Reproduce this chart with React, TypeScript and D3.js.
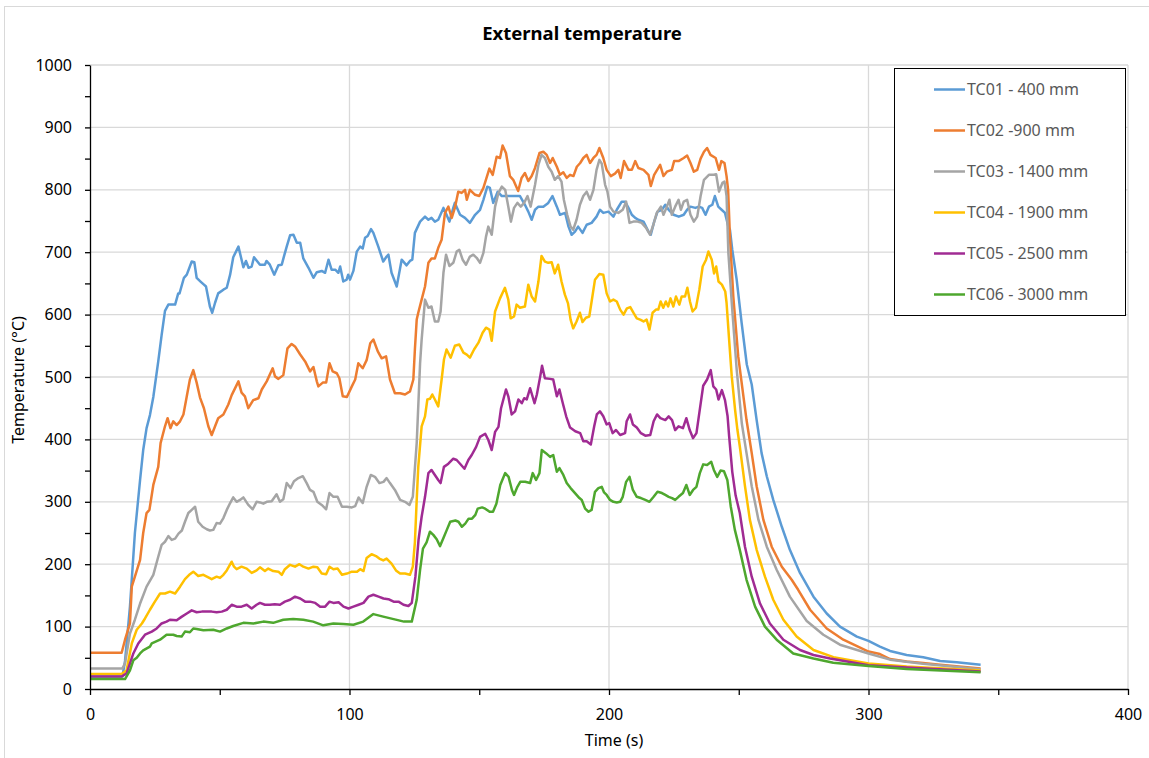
import React, { useRef, useEffect } from "react";
import { select, scaleLinear, line, axisBottom, axisLeft, range } from "d3";

// [time (s), temperature (°C)]
const tc01: [number, number][] = [
  [0, 20], [12.5, 20], [13.5, 45], [15.4, 132], [17.3, 250], [19.3, 335], [20.5, 383], [21.8, 418], [23.1, 439], [24.4, 468],
  [26.3, 525], [27.6, 567], [28.9, 606], [30.2, 616], [32.8, 616], [34, 634], [34.5, 634], [36.2, 659], [37.3, 664], [39.2, 685],
  [40.2, 684], [41.1, 659], [42.6, 653], [43.9, 648], [44.7, 645], [46.2, 613], [47.1, 603], [48.2, 619], [49.4, 634], [51.4, 640],
  [52.7, 643], [54, 664], [55.2, 692], [57.2, 709], [59.1, 676], [60.1, 686], [61.1, 675], [62.3, 677], [63.2, 692], [65.5, 680],
  [67.4, 680], [68, 686], [69.3, 680], [71, 664], [72.6, 679], [73.9, 680], [74.8, 694], [75.8, 709], [77.1, 727], [78.4, 728],
  [79.7, 715], [81, 715], [82.2, 690], [84.2, 675], [86.1, 659], [87.4, 668], [89.3, 670], [90.6, 667], [91.9, 688], [93.1, 672],
  [94.5, 672], [95.7, 667], [96.4, 677], [97.6, 653], [98.9, 656], [99.5, 664], [100.2, 656], [101.5, 670], [102.8, 701], [104.1, 709],
  [105.1, 706], [106, 723], [107, 726], [108.3, 737], [109.2, 731], [111.1, 709], [113, 685], [114.3, 693], [115, 696], [116.2, 667],
  [118.2, 645], [120.1, 688], [122, 679], [123.3, 686], [124.2, 688], [125.2, 731], [127.2, 749], [129.1, 757], [130.4, 752], [131.6, 755],
  [132.9, 749], [134.2, 752], [136.2, 771], [137.4, 760], [138.5, 749], [140, 771], [140.6, 779], [142.6, 760], [144.5, 755], [146.4, 747],
  [148.4, 760], [150.3, 768], [151.6, 784], [153.1, 805], [154.1, 803], [155.4, 779], [157.1, 797], [158.7, 790], [160.6, 790], [163.1, 790],
  [165.7, 790], [167.6, 776], [168.9, 765], [170.2, 752], [171.5, 768], [172.8, 773], [174.7, 773], [176.6, 779], [178.2, 790], [179.9, 773],
  [181.1, 760], [183.1, 763], [184.4, 741], [185.6, 728], [186.9, 733], [188.1, 741], [189.8, 731], [191.4, 744], [193.3, 747], [195.2, 757],
  [196.5, 768], [197.8, 763], [199.8, 765], [201.7, 757], [203, 768], [204.9, 781], [206.2, 781], [207.5, 771], [208.8, 760], [210.1, 755],
  [211.3, 752], [213.3, 749], [215.2, 733], [216.1, 728], [217.4, 749], [218.7, 765], [220.4, 768], [221.7, 776], [223, 768], [224.9, 760],
  [226.9, 757], [228.8, 760], [230.1, 768], [231.4, 773], [233.3, 771], [234.6, 773], [235.9, 771], [237.2, 760], [238.5, 773], [239.8, 776],
  [240.8, 790], [242.1, 773], [243.4, 768], [244.7, 763], [246, 741], [246.6, 736], [247.5, 704], [249.2, 656], [251.1, 587], [253.1, 520],
  [255, 488], [256.9, 431], [258.8, 378], [260.8, 341], [263.3, 303], [266.6, 260], [269.7, 223], [273.6, 186], [278.8, 148], [283.9, 121],
  [289, 100], [295.5, 84], [300, 77], [304.4, 68], [308.3, 61], [314.7, 54.5], [321.1, 50.8], [327.6, 45], [334, 42.7], [343.2, 39],
];

const tc02: [number, number][] = [
  [0, 58], [12.2, 58], [13.5, 79], [15.4, 105], [16.1, 164], [17.3, 180], [19.3, 207], [20.5, 250], [21.8, 282], [22.9, 287],
  [24.4, 327], [26.3, 356], [27.2, 394], [28.9, 421], [29.9, 434], [31, 418], [32.1, 429], [33.4, 423], [34.7, 429], [36, 440],
  [37.3, 469], [38.5, 496], [39.8, 511], [41.1, 491], [42.4, 467], [43.9, 450], [45.6, 421], [46.9, 407], [48.2, 421], [49.4, 434],
  [51.4, 440], [53.3, 456], [54.6, 471], [57.2, 493], [58.4, 475], [59.7, 469], [61, 450], [62.9, 463], [64.9, 466], [66.2, 480],
  [68.1, 493], [70.4, 514], [71.3, 501], [72.6, 497], [74.5, 503], [76.1, 546], [77.7, 553], [79, 549], [81, 536], [82.9, 525],
  [84.8, 509], [86.1, 516], [87.4, 493], [88, 485], [89.7, 491], [91, 491], [92.3, 522], [93.5, 509], [95.1, 506], [96.1, 498],
  [97.4, 469], [99, 468], [100.9, 485], [102.2, 496], [103.4, 522], [105.1, 514], [106.6, 527], [108, 554], [109.2, 560], [110.9, 541],
  [112.4, 530], [114.1, 533], [115.6, 496], [117.5, 474], [119.5, 474], [121.4, 472], [123.3, 477], [124.6, 496], [125.2, 544], [125.9, 592],
  [126.5, 603], [127.8, 624], [129.1, 645], [130.4, 683], [131.6, 690], [132.9, 690], [134.2, 707], [135.5, 720], [136.8, 763], [138.1, 773],
  [139.4, 755], [140.6, 771], [141.9, 797], [143.2, 795], [144.5, 800], [145.2, 784], [146.4, 800], [148.4, 792], [150, 790], [151.6, 803],
  [152.8, 819], [153.9, 834], [155.2, 824], [156.7, 853], [158, 851], [159, 871], [160.3, 859], [161.8, 822], [163.1, 816], [165, 798],
  [166.3, 819], [167.6, 827], [168.9, 814], [170.2, 822], [171.5, 835], [173.2, 859], [174.7, 861], [176, 856], [177.3, 843], [178.3, 851],
  [179.9, 837], [181.1, 824], [182.4, 828], [183.7, 819], [185, 824], [186.3, 822], [187.6, 837], [188.9, 843], [190.1, 851], [191.4, 856],
  [192.7, 843], [194, 851], [195.2, 856], [196.3, 867], [197.8, 851], [199.1, 832], [200.7, 822], [202.3, 826], [203.6, 832], [204.5, 819],
  [205.8, 846], [207.5, 832], [208.8, 832], [210.1, 846], [211.3, 835], [213.3, 832], [215.2, 824], [216.1, 806], [217.4, 824], [219.7, 840],
  [221, 822], [222.3, 829], [224.2, 832], [225.1, 846], [226.8, 846], [228.8, 851], [230.1, 855], [231.4, 843], [232.7, 829], [234, 832],
  [235.3, 850], [236.6, 861], [237.8, 867], [239.1, 856], [241.1, 851], [242.4, 832], [243.3, 846], [244.5, 843], [245.3, 822], [245.9, 800],
  [246.6, 725], [247.9, 629], [249.8, 533], [251.8, 469], [253, 431], [255, 378], [256.9, 325], [259.5, 271], [262.7, 228], [266.6, 196],
  [270.4, 175], [272.9, 159], [277.5, 127], [283.9, 97], [290.3, 79], [300, 60], [304.4, 56], [308.3, 48], [314.7, 44], [321, 41.5],
  [327.6, 39], [343.2, 33],
];

const tc03: [number, number][] = [
  [0, 33], [12.5, 33], [13.5, 41], [15.4, 89], [17.3, 111], [19.3, 137], [21.8, 164], [24.4, 183], [26.3, 212], [27.6, 231],
  [28.9, 236], [30.2, 245], [31.5, 239], [32.8, 241], [34.1, 249], [35.4, 254], [36.6, 268], [37.9, 282], [39.2, 287], [40.5, 292],
  [41.7, 268], [43.4, 260], [45, 256], [46.2, 254], [47.5, 255], [48.8, 266], [50.1, 265], [51.4, 274], [52.7, 287], [54, 298],
  [55.2, 307], [56.5, 300], [57.8, 303], [59.1, 307], [61, 295], [62.7, 288], [64.2, 300], [65.5, 299], [66.8, 297], [68.1, 300],
  [70, 301], [71.9, 312], [73.2, 300], [74.5, 304], [75.8, 330], [77.3, 322], [78.6, 333], [80.3, 338], [82, 341], [83.5, 330],
  [84.8, 319], [86.1, 316], [87.6, 300], [89.3, 295], [91, 288], [92.3, 314], [93.8, 308], [95.4, 308], [97.1, 292], [99, 292],
  [100.9, 291], [102.2, 293], [103.5, 307], [105.1, 298], [106.6, 324], [108.2, 343], [109.8, 340], [111.5, 330], [113.1, 332], [114.3, 338],
  [115.6, 330], [117.5, 319], [119.5, 303], [121.4, 300], [123.1, 295], [124.4, 308], [125.9, 394], [127.2, 522], [127.8, 560], [129.1, 624],
  [130.4, 611], [131.6, 613], [132.9, 589], [134.2, 589], [135.1, 605], [136.2, 667], [137.2, 696], [138.5, 678], [140, 683], [141.3, 701],
  [142.3, 704], [143.6, 688], [144.9, 680], [146.4, 693], [147.7, 696], [149, 691], [150.3, 683], [151.6, 699], [152.6, 725], [153.5, 741],
  [154.8, 728], [156.1, 773], [157.4, 795], [158.7, 805], [160, 800], [161.2, 773], [162.2, 749], [163.4, 771], [164.7, 779], [166, 773],
  [167.3, 779], [168.6, 790], [169.8, 773], [171.5, 808], [172.8, 840], [174, 856], [175.3, 851], [176.6, 837], [177.9, 829], [179.1, 816],
  [180.4, 822], [181.7, 813], [182.6, 784], [183.9, 760], [185.2, 741], [186.2, 736], [187.5, 752], [188.8, 776], [190.1, 790], [191.4, 797],
  [192.7, 784], [194, 800], [195.2, 832], [196.3, 848], [197.2, 842], [198.5, 808], [199.4, 797], [200.4, 773], [201.7, 765], [203.6, 763],
  [205.3, 768], [206.6, 781], [207.9, 747], [209.4, 749], [211, 749], [212.6, 747], [214.3, 739], [215.8, 728], [217.1, 744], [218.4, 763],
  [220, 773], [221, 760], [222.3, 773], [223.3, 784], [224.2, 760], [225.5, 773], [226.8, 784], [227.7, 768], [228.8, 781], [230.1, 784],
  [231.4, 760], [232.7, 749], [234, 757], [235.3, 790], [236.6, 816], [238.5, 824], [240.4, 824], [241.3, 825], [242.4, 797], [243.7, 811],
  [244.5, 813], [245.3, 790], [246, 699], [247.3, 619], [249.2, 512], [251.2, 425], [253, 378], [255, 325], [257.6, 271], [260.8, 228],
  [264.6, 191], [269.7, 148], [276.2, 109], [282.6, 87], [289, 71], [300, 57], [308.3, 47], [321, 40.5], [343.2, 31.5],
];

const tc04: [number, number][] = [
  [0, 24], [12.2, 24], [14.1, 30], [16.1, 73], [18, 95], [20, 105], [21.2, 113], [23.1, 127], [25, 140], [27, 153],
  [28.9, 153], [30.8, 156], [32.8, 153], [34.7, 164], [36.6, 176], [38.5, 184], [39.8, 188], [41.7, 181], [43.7, 183], [45.6, 179],
  [46.9, 176], [48.8, 180], [50.1, 178], [51.4, 183], [52.7, 190], [54.6, 204], [55.5, 196], [56.5, 192], [58.4, 196], [60.4, 193],
  [62.3, 186], [64.2, 190], [65.5, 195], [67.4, 189], [68.7, 193], [70.6, 189], [72.6, 188], [73.9, 183], [75.1, 192], [77.1, 199],
  [79, 196], [80.7, 200], [82.2, 196], [84.2, 193], [86.1, 196], [87.6, 195], [89.3, 185], [91, 184], [92.3, 196], [93.8, 192],
  [95.4, 193], [97.1, 183], [99, 185], [100.9, 188], [102.9, 188], [104.1, 192], [105.4, 189], [106.6, 210], [108.5, 216], [110.2, 213],
  [111.5, 209], [113, 206], [114.3, 209], [116.2, 201], [117.9, 190], [119.5, 185], [121.4, 185], [123.3, 183], [124.4, 196], [125.2, 235],
  [125.9, 303], [126.5, 356], [127.8, 421], [129.1, 437], [130, 464], [131, 465], [131.9, 472], [132.9, 464], [134.2, 453], [135.5, 496],
  [136.4, 528], [137.4, 544], [139, 531], [140.6, 550], [142.3, 552], [143.9, 539], [145.2, 536], [146.4, 531], [148, 544], [149.7, 555],
  [151.3, 571], [152.6, 579], [153.9, 576], [154.8, 558], [156.1, 605], [158, 626], [159.9, 643], [161.2, 624], [162.1, 594], [163.4, 597],
  [164.4, 616], [165.7, 611], [167.6, 613], [168.9, 648], [170.2, 629], [171.5, 621], [172.8, 653], [174, 694], [175.3, 685], [176.6, 683],
  [177.9, 684], [179.1, 666], [180.4, 680], [181.7, 653], [183, 632], [184.2, 618], [185.2, 592], [186.2, 578], [187.5, 589], [188.8, 603],
  [189.8, 588], [191.1, 595], [192.4, 597], [193.3, 621], [194.6, 656], [196.3, 665], [197.8, 664], [199.1, 634], [200.4, 621], [201.7, 624],
  [203, 621], [204.3, 608], [205.6, 600], [206.9, 610], [208.2, 612], [209.4, 603], [210.7, 594], [212, 592], [213.3, 589], [214.5, 592],
  [215.6, 576], [216.8, 603], [218.1, 608], [219, 608], [219.9, 621], [220.9, 611], [221.9, 621], [222.8, 613], [223.7, 626], [224.8, 613],
  [225.8, 629], [227.1, 616], [228, 629], [229.3, 629], [230.2, 643], [231.2, 621], [232.2, 605], [233.5, 611], [234.8, 640], [236.1, 677],
  [237.4, 688], [238.3, 701], [239.6, 688], [240.5, 666], [241.3, 677], [242.2, 653], [243.5, 648], [244.8, 637], [245.3, 619], [246.2, 565],
  [247.3, 501], [248.6, 447], [249.5, 415], [250.4, 389], [252.4, 325], [254.3, 271], [256.9, 223], [260.1, 180], [263.3, 143], [267.2, 111],
  [272.3, 84], [278.8, 62.5], [286.5, 51], [300, 41], [314.7, 36], [343.2, 29.5],
];

const tc05: [number, number][] = [
  [0, 20], [12.2, 20], [14.1, 25], [16.7, 57], [18.6, 73], [21.2, 87], [23.8, 92], [25.7, 97], [27.6, 105], [29.5, 108],
  [30.8, 111], [33.4, 110], [35.4, 116], [37.3, 121], [39.2, 126], [41.1, 123], [43.1, 124], [45, 124], [46.9, 124], [48.8, 123],
  [50.8, 124], [52.7, 127], [54.6, 135], [56.5, 132], [58.4, 132], [60.4, 135], [62.3, 129], [64.2, 135], [65.5, 138], [67.4, 135],
  [69.3, 135], [71.2, 136], [73.2, 135], [75.1, 140], [77.1, 143], [79, 148], [81, 145], [82.9, 140], [84.8, 140], [86.8, 138],
  [88.7, 132], [90.6, 132], [92.3, 140], [93.8, 138], [95.8, 139], [97.7, 132], [99.6, 129], [101.5, 132], [103.5, 135], [105.4, 138],
  [107.3, 148], [109.2, 151], [111.2, 148], [113.1, 145], [115, 144], [117, 140], [118.9, 140], [120.8, 135], [122.7, 133], [124, 138],
  [125.4, 180], [126.6, 239], [127.8, 276], [129.1, 308], [130.4, 346], [131.6, 351], [132.9, 343], [134.2, 335], [135.1, 330], [136.4, 356],
  [138.1, 361], [140, 369], [141.3, 367], [142.6, 361], [144.3, 353], [145.8, 367], [147.1, 375], [148.8, 388], [150.3, 404], [152.3, 409],
  [153.5, 399], [154.8, 383], [156.1, 412], [157.4, 420], [158.4, 450], [160.3, 480], [161.2, 469], [162.5, 440], [163.8, 445], [165.1, 464],
  [166.4, 458], [167.3, 466], [168.3, 464], [169.6, 482], [171.3, 458], [172.2, 472], [173.5, 501], [174.2, 518], [175.3, 498], [177.3, 497],
  [178.5, 496], [179.9, 469], [180.9, 480], [182.2, 458], [183.5, 437], [185, 419], [187, 413], [188.9, 410], [190.1, 397], [191.4, 397],
  [193, 392], [194.3, 421], [195.3, 440], [196.5, 445], [197.8, 437], [199.1, 424], [200.1, 426], [201.4, 410], [202.7, 415], [204.3, 407],
  [206.2, 410], [206.8, 429], [208.1, 440], [209.2, 424], [210.7, 419], [212.3, 410], [214, 406], [215.9, 407], [217.2, 429], [218.5, 440],
  [219.8, 434], [221.7, 431], [223, 437], [224.3, 431], [225.5, 415], [226.8, 421], [228.5, 418], [229.8, 434], [231.1, 415], [232.4, 402],
  [233.7, 410], [235, 448], [236.3, 486], [237.8, 496], [239.2, 511], [240.2, 485], [241.3, 480], [242.2, 464], [243.5, 479], [244.7, 463],
  [245.7, 437], [246.3, 405], [247.5, 348], [248.8, 310], [250.4, 282], [252.4, 228], [255, 180], [258.2, 137], [262, 105], [267.2, 79],
  [273.6, 62.5], [278.8, 54.5], [285.2, 49], [300, 38], [314.7, 34.5], [343.2, 28],
];

const tc06: [number, number][] = [
  [0, 16], [13.5, 16], [15.4, 30], [16.7, 46], [18, 50], [19.3, 57], [20.5, 62], [23.1, 68], [23.8, 73], [27, 79],
  [29.5, 87], [32.1, 87], [33.4, 85], [35.3, 84], [36.6, 92], [38.5, 91], [39.8, 97], [41.1, 96], [43.7, 94], [47.5, 95],
  [50.1, 92], [52.7, 97], [55.2, 101], [59.1, 106], [63, 105], [66.8, 108], [70.6, 106], [74.5, 111], [78.3, 112], [82.2, 111],
  [86, 108], [89.9, 102], [93.8, 105], [97.6, 104], [101.5, 103], [105.3, 108], [109.2, 120], [113, 116], [117, 112], [121, 108],
  [124, 108], [125.9, 143], [127.2, 191], [128.3, 225], [129.7, 235], [131, 252], [132.3, 247], [133.6, 240], [134.9, 229], [136.2, 242],
  [137.5, 255], [138.8, 268], [140.8, 270], [142, 268], [143.3, 260], [144.6, 265], [145.9, 273], [147.2, 273], [148.5, 279], [149.4, 289],
  [151.1, 291], [152.3, 289], [154, 284], [155.3, 284], [156.6, 297], [158.1, 327], [160, 346], [161.3, 340], [162.6, 319], [163.4, 311],
  [164.7, 324], [165.8, 332], [167.7, 332], [169.6, 330], [170.6, 346], [171.9, 335], [173.2, 346], [174.1, 383], [175.7, 378], [177.3, 372],
  [178.5, 375], [179.9, 348], [180.9, 354], [182.4, 343], [183.7, 330], [185.2, 322], [186.9, 314], [188.6, 306], [189.5, 303], [190.8, 289],
  [192.1, 284], [193.3, 287], [194.6, 316], [195.9, 322], [197.2, 324], [198.1, 315], [199.1, 311], [200.4, 303], [201.7, 300], [203, 299],
  [204.3, 300], [205.3, 308], [206.6, 332], [207.9, 340], [209.2, 319], [210.7, 308], [212.3, 306], [214, 303], [215.6, 300], [217.2, 308],
  [218.7, 316], [220.4, 314], [221.7, 311], [223, 308], [224.3, 306], [225.5, 303], [226.8, 308], [228.5, 314], [229.8, 327], [231.1, 311],
  [232.4, 319], [233.7, 324], [235, 346], [236.3, 360], [237.8, 359], [239.4, 364], [240.4, 351], [241.7, 340], [243, 350], [244.3, 349],
  [245.6, 335], [246.9, 293], [248.5, 255], [250.4, 223], [253, 175], [256.3, 132], [260.1, 100], [264.6, 79], [271, 57], [278.8, 49],
  [286.4, 42], [300, 37], [314.7, 32], [343.2, 27],
];

const seriesNames = ["TC01 - 400 mm", "TC02 -900 mm", "TC03 - 1400 mm", "TC04 - 1900 mm", "TC05 - 2500 mm", "TC06 - 3000 mm"];
const allSeries = [tc01, tc02, tc03, tc04, tc05, tc06];
const colors = ["#5b9bd5", "#ed7d31", "#a5a5a5", "#ffc000", "#a02b93", "#4ea72e"];

const chartTitle = "External temperature";
const xTitle = "Time (s)";
const yTitle = "Temperature (°C)";

const width = 1149,
  height = 758;
const font = "'Noto Sans', 'Liberation Sans', sans-serif";

function App() {
  const svgRef = useRef<SVGSVGElement>(null);

  useEffect(() => {
    const svg = select(svgRef.current);
    svg.selectAll("*").remove();

    const xScale = scaleLinear().domain([0, 400]).range([90, 1128]);
    const yScale = scaleLinear().domain([0, 1000]).range([689, 65]);

    // chart area border
    svg
      .append("rect")
      .attr("x", 4.5)
      .attr("y", 6.5)
      .attr("width", 1160)
      .attr("height", 770)
      .attr("fill", "#fff")
      .attr("stroke", "#d9d9d9");

    // gridlines
    const grid = svg.append("g").attr("stroke", "#d9d9d9").attr("stroke-width", 1.3);
    grid
      .selectAll(".hgrid")
      .data(range(100, 1001, 100))
      .join("line")
      .attr("x1", xScale(0))
      .attr("x2", xScale(400))
      .attr("y1", (d) => yScale(d))
      .attr("y2", (d) => yScale(d));
    grid
      .selectAll(".vgrid")
      .data(range(100, 401, 100))
      .join("line")
      .attr("x1", (d) => xScale(d))
      .attr("x2", (d) => xScale(d))
      .attr("y1", yScale(0))
      .attr("y2", yScale(1000));

    // series lines
    const myLine = line<[number, number]>()
      .x((d) => xScale(d[0]))
      .y((d) => yScale(d[1]));

    svg
      .append("g")
      .selectAll("path")
      .data(allSeries)
      .join("path")
      .attr("d", (d) => myLine(d))
      .attr("fill", "none")
      .attr("stroke", (d, i) => colors[i])
      .attr("stroke-width", 2.5)
      .attr("stroke-linejoin", "round");

    // axes
    const yAxis = axisLeft(yScale)
      .tickValues(range(0, 1001, 50))
      .tickSize(5)
      .tickSizeOuter(0)
      .tickPadding(13)
      .tickFormat((d) => (+d % 100 === 0 ? String(d) : ""));
    const xAxis = axisBottom(xScale)
      .tickValues(range(0, 401, 50))
      .tickSize(6)
      .tickSizeOuter(0)
      .tickPadding(14)
      .tickFormat((d) => (+d % 100 === 0 ? String(d) : ""));

    const gy = svg.append("g").attr("transform", `translate(${xScale(0)},0)`).call(yAxis);
    const gx = svg.append("g").attr("transform", `translate(0,${yScale(0)})`).call(xAxis);
    [gx, gy].forEach((g) => {
      g.select(".domain").attr("stroke", "#000").attr("stroke-width", 1.3);
      g.selectAll(".tick line").attr("stroke", "#000").attr("stroke-width", 1.3);
      g.selectAll(".tick text").attr("fill", "#000").style("font-family", font).style("font-size", "16px");
    });

    // titles
    svg
      .append("text")
      .attr("x", 582)
      .attr("y", 40)
      .attr("text-anchor", "middle")
      .style("font-family", font)
      .style("font-size", "18.5px")
      .style("font-weight", "bold")
      .attr("fill", "#000")
      .text(chartTitle);

    svg
      .append("text")
      .attr("x", 614)
      .attr("y", 746)
      .attr("text-anchor", "middle")
      .style("font-family", font)
      .style("font-size", "16px")
      .attr("fill", "#000")
      .text(xTitle);

    svg
      .append("text")
      .attr("transform", "translate(24,380) rotate(-90)")
      .attr("text-anchor", "middle")
      .style("font-family", font)
      .style("font-size", "16px")
      .attr("fill", "#000")
      .text(yTitle);

    // legend
    const legend = svg.append("g");
    legend
      .append("rect")
      .attr("x", 894.5)
      .attr("y", 68.5)
      .attr("width", 231)
      .attr("height", 247)
      .attr("fill", "#fff")
      .attr("stroke", "#000");

    const rows = legend
      .selectAll(".row")
      .data(seriesNames)
      .join("g")
      .attr("transform", (d, i) => `translate(0,${89.5 + i * 41})`);
    rows
      .append("line")
      .attr("x1", 934)
      .attr("x2", 965)
      .attr("stroke", (d, i) => colors[i])
      .attr("stroke-width", 2.5);
    rows
      .append("text")
      .attr("x", 967)
      .attr("dy", "0.35em")
      .style("font-family", font)
      .style("font-size", "16px")
      .attr("fill", "#595959")
      .text((d) => d);
  }, []);

  return (
    <svg
      ref={svgRef}
      width={width}
      height={height}
      style={{ position: "absolute", left: 0, top: 0, background: "#fff" }}
    />
  );
}

export default App;
